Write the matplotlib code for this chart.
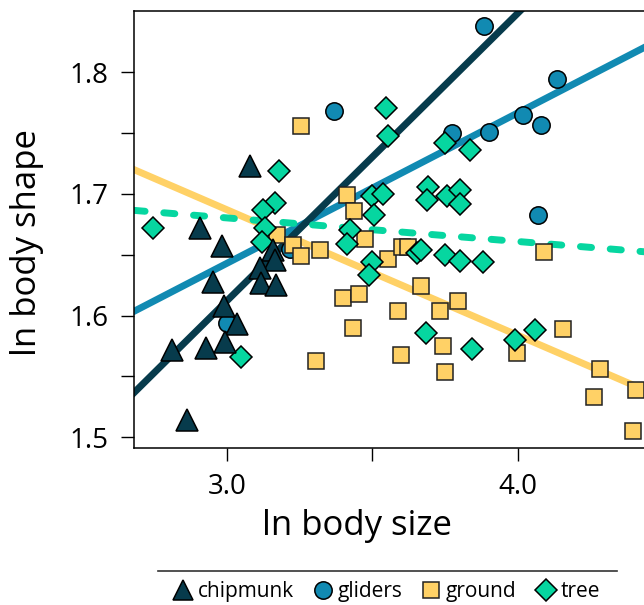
import matplotlib
matplotlib.use("Agg")
import matplotlib.pyplot as plt
from matplotlib.lines import Line2D

plt.rcParams['font.family'] = ['Open Sans', 'DejaVu Sans']

# point data (ln body size, ln body shape)
chip_x = [3.080, 2.908, 2.984, 2.953, 2.991, 3.036, 2.994, 2.929, 2.812, 2.864,
          3.159, 3.166, 3.114, 3.118, 3.169]
chip_y = [1.7233, 1.6723, 1.6575, 1.6279, 1.6081, 1.5933, 1.5785, 1.5736, 1.5720, 1.5144,
          1.6542, 1.6460, 1.6394, 1.6271, 1.6254]

glid_x = [3.370, 3.885, 4.135, 4.019, 4.080, 3.902, 3.773, 4.069, 3.218, 3.001]
glid_y = [1.7679, 1.8384, 1.7946, 1.7646, 1.7564, 1.7507, 1.7502, 1.6824, 1.6550, 1.5942]

grnd_x = [3.255, 3.414, 3.438, 3.475, 3.321, 3.555, 3.601, 3.624, 3.668, 3.399,
          3.455, 3.588, 3.733, 3.794, 3.173, 3.226, 3.255, 3.435, 3.306, 3.742,
          3.598, 3.750, 3.997, 4.157, 4.091, 4.283, 4.263, 4.406, 4.397]
grnd_y = [1.7556, 1.6994, 1.6863, 1.6633, 1.6542, 1.6465, 1.6564, 1.6564, 1.6246, 1.6147,
          1.6180, 1.6040, 1.6035, 1.6117, 1.6661, 1.6583, 1.6493, 1.5895, 1.5623, 1.5747,
          1.5678, 1.5536, 1.5692, 1.5890, 1.6523, 1.5563, 1.5331, 1.5385, 1.5048]

tree_x = [2.747, 3.181, 3.166, 3.126, 3.132, 3.121, 3.049, 3.546, 3.553, 3.499,
          3.537, 3.506, 3.422, 3.412, 3.499, 3.488, 3.750, 3.836, 3.692, 3.687,
          3.757, 3.802, 3.803, 3.653, 3.668, 3.750, 3.802, 3.881, 3.684, 3.844,
          3.991, 4.059]
tree_y = [1.6723, 1.7186, 1.6926, 1.6871, 1.6723, 1.6608, 1.5656, 1.7704, 1.7474, 1.6982,
          1.7002, 1.6830, 1.6706, 1.6587, 1.6443, 1.6332, 1.7419, 1.7364, 1.7060, 1.6949,
          1.6980, 1.7031, 1.6920, 1.6517, 1.6538, 1.6501, 1.6446, 1.6443, 1.5857, 1.5725,
          1.5796, 1.5884]

# fitted lines, read at both ends of the x range
line_x = [2.681, 4.434]
chip_fit = [1.5366, 1.9512]
glid_fit = [1.6035, 1.8203]
grnd_fit = [1.720, 1.539]
tree_fit = [1.6865, 1.6525]

c_chip = '#073B4C'
c_glid = '#118AB2'
c_grnd = '#FFD166'
c_tree = '#06D6A0'

fig = plt.figure(figsize=(6.44, 6.05), dpi=100)
ax = fig.add_axes([134 / 644, (605 - 447.7) / 605, 510 / 644, (447.7 - 11) / 605])

lw = 5
ax.plot(line_x, grnd_fit, color=c_grnd, lw=lw, zorder=1)
ax.plot(line_x, glid_fit, color=c_glid, lw=lw, zorder=1)
ax.plot(line_x, chip_fit, color=c_chip, lw=lw, zorder=1)
ax.plot(line_x, tree_fit, color=c_tree, lw=lw, zorder=1,
        dashes=(1.6, 2.7), dash_capstyle='round')

ew = 1.1
ax.plot(glid_x, glid_y, 'o', ms=12.5, mfc=c_glid, mec='black', mew=ew, zorder=3)
ax.plot(grnd_x, grnd_y, 's', ms=11.5, mfc=c_grnd, mec='#222222', mew=ew, zorder=4)
ax.plot(tree_x, tree_y, 'D', ms=11, mfc=c_tree, mec='black', mew=ew, zorder=5)
ax.plot(chip_x, chip_y, '^', ms=16.5, mfc=c_chip, mec='black', mew=ew, zorder=6)

ax.set_xlim(line_x)
ax.set_ylim(1.4914, 1.8504)

ax.set_xticks([3.0, 3.5, 4.0])
ax.set_xticklabels(['3.0', '', '4.0'])
ax.set_yticks([1.5, 1.55, 1.6, 1.65, 1.7, 1.75, 1.8])
ax.set_yticklabels(['1.5', '', '1.6', '', '1.7', '', '1.8'])
ax.tick_params(length=9.5, width=1.0, labelsize=20, direction='out')
ax.tick_params(axis='y', pad=9)
ax.tick_params(axis='x', pad=9)

ax.spines['right'].set_visible(False)
for s in ['top', 'left', 'bottom']:
    ax.spines[s].set_linewidth(1.1)

ax.set_xlabel('ln body size', fontsize=25)
ax.set_ylabel('ln body shape', fontsize=25)
ax.xaxis.set_label_coords(0.437, -0.14)
ax.yaxis.set_label_coords(-0.176, 0.47)

handles = [
    Line2D([], [], ls='none', marker='^', ms=14.5, mfc=c_chip, mec='black', mew=ew),
    Line2D([], [], ls='none', marker='o', ms=12.5, mfc=c_glid, mec='black', mew=ew),
    Line2D([], [], ls='none', marker='s', ms=11, mfc=c_grnd, mec='#222222', mew=ew),
    Line2D([], [], ls='none', marker='D', ms=10.7, mfc=c_tree, mec='black', mew=ew),
]
fig.legend(handles, ['chipmunk', 'gliders', 'ground', 'tree'], loc='center',
           bbox_to_anchor=(0.598, 0.0215), ncol=4, frameon=False, fontsize=15,
           handletextpad=0.1, columnspacing=0.8, handlelength=1.2)
fig.add_artist(Line2D([158 / 644, 617 / 644], [(605 - 571) / 605] * 2,
                      transform=fig.transFigure, color='#333333', lw=1.2))

fig.savefig('out.png', dpi=100)
